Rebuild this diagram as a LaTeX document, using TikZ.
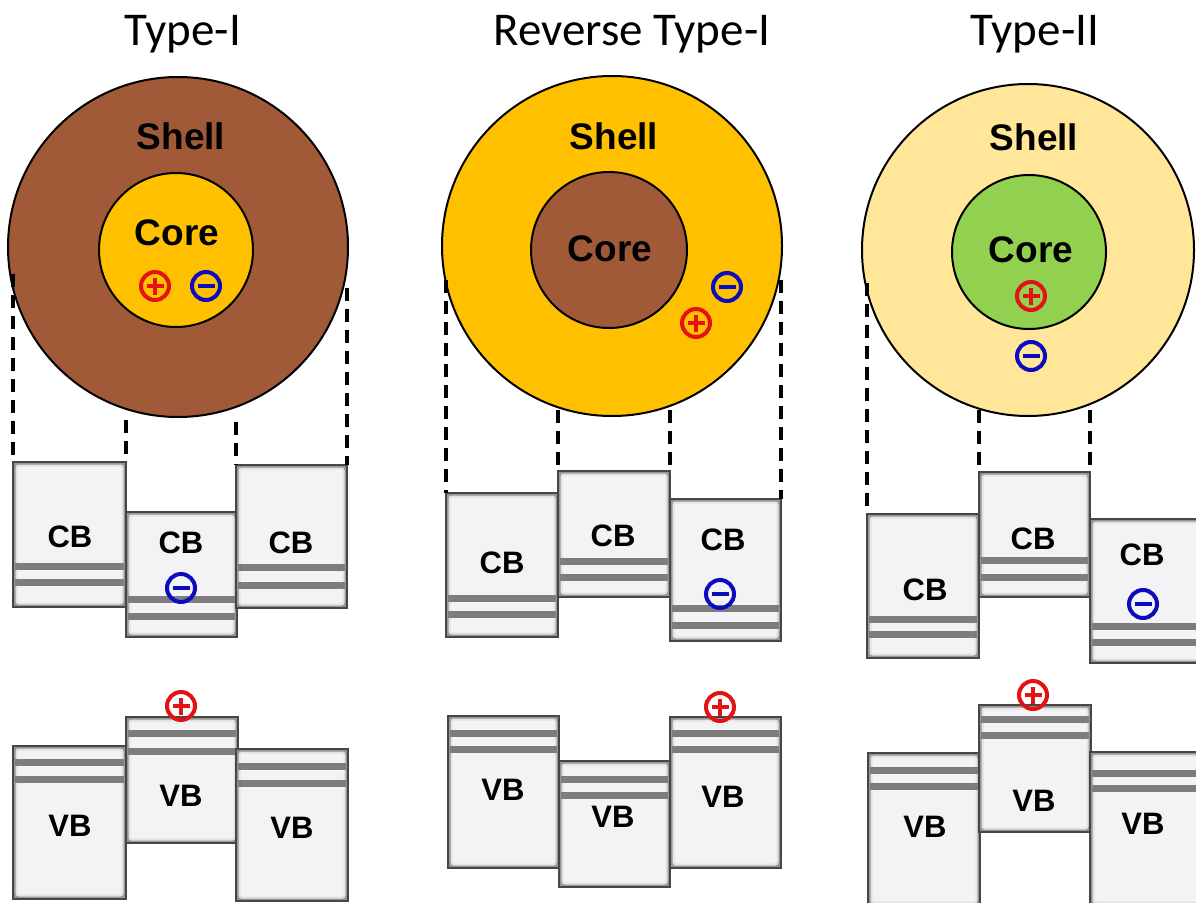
\documentclass[tikz,border=0pt]{standalone}
\usepackage{fontspec}
\newfontfamily\titlefont{Carlito}
\newfontfamily\lblfont{Liberation Sans}

\definecolor{shellbrown}{RGB}{160,90,56}
\definecolor{gold}{RGB}{255,192,0}
\definecolor{paleyellow}{RGB}{255,230,153}
\definecolor{leafgreen}{RGB}{146,208,80}
\definecolor{holered}{RGB}{228,18,18}
\definecolor{elecblue}{RGB}{12,12,190}
\definecolor{bandgray}{RGB}{125,125,125}
\definecolor{boxface}{RGB}{243,243,245}
\definecolor{boxrim}{RGB}{150,150,150}
\definecolor{boxline}{RGB}{70,70,70}

\tikzset{
  title/.style={font=\titlefont\fontsize{47}{52}\selectfont, anchor=base, inner sep=0pt},
  big label/.style={font=\lblfont\bfseries\fontsize{37}{41}\selectfont, inner sep=0pt},
  band label/.style={font=\lblfont\bfseries\fontsize{31}{35}\selectfont, inner sep=0pt},
  particle/.style={draw=black, line width=2pt},
  guide/.style={draw=black, line width=3.4pt, dash pattern=on 13pt off 8pt},
  charge/.style={circle, draw=#1, line width=4pt, minimum size=28pt, inner sep=0pt},
  hole/.style={charge=holered,
    path picture={\draw[holered, line width=4pt]
      ([xshift=-8.5pt]path picture bounding box.center) -- ([xshift=8.5pt]path picture bounding box.center)
      ([yshift=-8.5pt]path picture bounding box.center) -- ([yshift=8.5pt]path picture bounding box.center);}},
  electron/.style={charge=elecblue,
    path picture={\draw[elecblue, line width=4pt]
      ([xshift=-8.5pt]path picture bounding box.center) -- ([xshift=8.5pt]path picture bounding box.center);}},
}

% band box: #1 name, (#2,#3) top-left, (#4,#5) bottom-right, #6 and #7 the two levels
\newcommand\bandbox[7]{%
  \fill[boxrim] (#2,#3) rectangle (#4,#5);
  \fill[gray!22, rounded corners=3pt] ({#2+2.5},{#3+2.5}) rectangle ({#4-2.5},{#5-2.5});
  \fill[boxface, rounded corners=2.5pt] ({#2+4.5},{#3+4.5}) rectangle ({#4-4.5},{#5-4.5});
  \fill[bandgray] ({#2+2},{#6-3.5}) rectangle ({#4-2},{#6+3.5});
  \fill[bandgray] ({#2+2},{#7-3.5}) rectangle ({#4-2},{#7+3.5});
  \draw[boxline, line width=1.4pt] (#2,#3) rectangle (#4,#5);
  \coordinate (#1-nw) at (#2,#3);
  \coordinate (#1-ne) at (#4,#3);
}

\begin{document}
\begin{tikzpicture}[x=1pt,y=-1pt]
\useasboundingbox (0,0) rectangle (1196,902);

% ---------------- titles ----------------
\node[title] (ttl1) at (183,45) {Type-I};
\node[title] (ttl2) at (632,45) {Reverse Type-I};
\node[title] (ttl3) at (1035,45) {Type-II};

% ---------------- particles ----------------
\draw[particle, fill=shellbrown] (178,247) circle[radius=170];
\draw[particle, fill=gold] (176,250) circle[radius=77];
\node[big label] (sh1) at (181,136) {Shell};
\node[big label] (co1) at (177,233) {Core};

\draw[particle, fill=gold] (612,246) circle[radius=170];
\draw[particle, fill=shellbrown] (609,250) circle[radius=78];
\node[big label] (sh2) at (614,136) {Shell};
\node[big label] (co2) at (610,249) {Core};

\draw[particle, fill=paleyellow] (1028,250) circle[radius=166];
\draw[particle, fill=leafgreen] (1029,252) circle[radius=77];
\node[big label] (sh3) at (1034,137) {Shell};
\node[big label] (co3) at (1031,250) {Core};

% carriers inside the particles
\node[hole] (h1) at (155,286) {};
\node[electron] (e1) at (206,286) {};
\node[electron] (e2) at (727,287) {};
\node[hole] (h2) at (696,323) {};
\node[hole] (h3) at (1031,296) {};
\node[electron] (e3) at (1031,356) {};

% ---------------- conduction bands ----------------
\bandbox{a1}{13}{462}{126}{607}{566}{582}
\bandbox{a2}{126}{512}{237}{637}{599}{616}
\bandbox{a3}{236}{465}{347}{608}{567}{585}

\bandbox{b1}{446}{493}{558}{637}{598}{614}
\bandbox{b2}{558}{471}{670}{597}{561}{577}
\bandbox{b3}{670}{499}{781}{641}{608}{625}

\bandbox{c1}{867}{514}{979}{658}{619}{634}
\bandbox{c2}{979}{472}{1090}{597}{560}{577}
\bandbox{c3}{1090}{519}{1202}{663}{626}{642}

\node[band label] (la1) at (70,537) {CB};
\node[band label] (la2) at (181,543) {CB};
\node[band label] (la3) at (291,543) {CB};
\node[band label] (lb1) at (502,563) {CB};
\node[band label] (lb2) at (613,536) {CB};
\node[band label] (lb3) at (723,540) {CB};
\node[band label] (lc1) at (925,590) {CB};
\node[band label] (lc2) at (1033,539) {CB};
\node[band label] (lc3) at (1142,555) {CB};

% ---------------- valence bands ----------------
\bandbox{d1}{13}{746}{126}{899}{762}{779}
\bandbox{d2}{126}{717}{238}{843}{733}{751}
\bandbox{d3}{236}{749}{348}{901}{766}{783}

\bandbox{f1}{448}{716}{559}{868}{733}{749}
\bandbox{f2}{559}{761}{670}{887}{779}{795}
\bandbox{f3}{670}{717}{781}{868}{733}{749}

\bandbox{g1}{868}{753}{980}{906}{770}{786}
\bandbox{g2}{979}{705}{1091}{832}{719}{735}
\bandbox{g3}{1090}{752}{1202}{906}{773}{788}

\node[band label] (ld1) at (70,826) {VB};
\node[band label] (ld2) at (181,796) {VB};
\node[band label] (ld3) at (292,828) {VB};
\node[band label] (lf1) at (503,790) {VB};
\node[band label] (lf2) at (613,817) {VB};
\node[band label] (lf3) at (723,797) {VB};
\node[band label] (lg1) at (925,827) {VB};
\node[band label] (lg2) at (1034,801) {VB};
\node[band label] (lg3) at (1143,824) {VB};

% carriers in the bands
\node[electron] (e4) at (181,588) {};
\node[hole] (h4) at (181,706) {};
\node[electron] (e5) at (720,594) {};
\node[hole] (h5) at (720,707) {};
\node[electron] (e6) at (1143,604) {};
\node[hole] (h6) at (1033,695) {};

% ---------------- projection guides ----------------
\coordinate (ga1) at (13,274);
\coordinate (ga2) at (126,420);
\coordinate (ga3) at (236,422);
\coordinate (ga4) at (347,288);
\draw[guide] (ga1) -- (a1-nw);
\draw[guide] (ga2) -- (a1-ne);
\draw[guide] (ga3) -- (a3-nw);
\draw[guide] (ga4) -- (a3-ne);

\coordinate (gb1) at (446,280);
\coordinate (gb2) at (558,410);
\coordinate (gb3) at (670,410);
\coordinate (gb4) at (781,280);
\draw[guide] (gb1) -- (b1-nw);
\draw[guide] (gb2) -- (b2-nw);
\draw[guide] (gb3) -- (b2-ne);
\draw[guide] (gb4) -- (b3-ne);

\coordinate (gc1) at (867,283);
\coordinate (gc2) at (979,410);
\coordinate (gc3) at (1090,410);
\draw[guide] (gc1) -- (c1-nw);
\draw[guide] (gc2) -- (c2-nw);
\draw[guide] (gc3) -- (c2-ne);
\end{tikzpicture}
\end{document}
